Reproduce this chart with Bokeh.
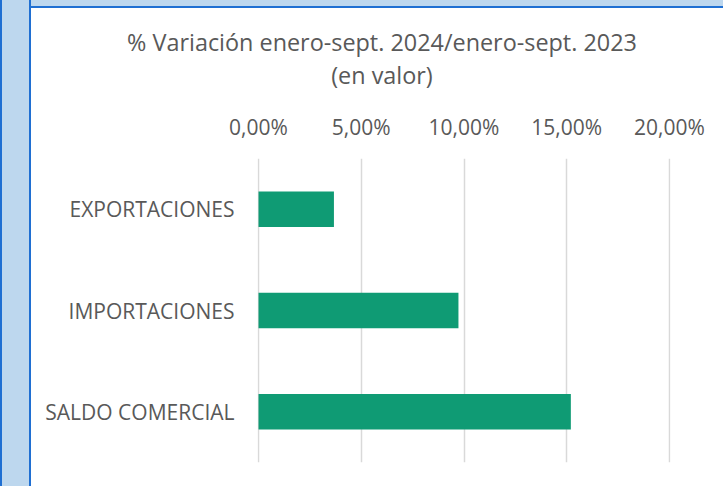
from bokeh.plotting import figure
from bokeh.models import Range1d, FixedTicker, Div
from bokeh.layouts import row, column
from bokeh.embed import file_html
from bokeh.resources import INLINE

categories = ["EXPORTACIONES", "IMPORTACIONES", "SALDO COMERCIAL"]
values = [0.0367, 0.0973, 0.152]
tick_values = [0.0, 0.05, 0.10, 0.15, 0.20]
tick_labels = ["0,00%", "5,00%", "10,00%", "15,00%", "20,00%"]
title_lines = ["% Variación enero-sept. 2024/enero-sept. 2023", "(en valor)"]

FONT = "Open Sans"
TXT = "#595959"
LIGHT = "#BDD7EE"
BLUE = "#1F6FD2"

p = figure(
    y_range=list(reversed(categories)),
    x_range=Range1d(-0.0005, 0.2005),
    x_axis_location="above",
    frame_width=413, frame_height=304,
    min_border_left=226, min_border_right=53,
    min_border_top=66, min_border_bottom=24,
    output_backend="svg", toolbar_location=None,
    background_fill_color="white", border_fill_color="white",
    margin=(0, 0, 0, 0),
)
p.outline_line_color = None

p.hbar(y=categories, right=values, left=0, height=0.35,
       fill_color="#0F9B74", line_color=None)

xa = p.xaxis[0]
xa.ticker = FixedTicker(ticks=tick_values)
xa.major_label_overrides = {v: l for v, l in zip(tick_values, tick_labels)}
xa.axis_line_color = None
xa.major_tick_line_color = None
xa.minor_tick_line_color = None
xa.major_tick_out = 0
xa.major_tick_in = 0
xa.major_label_standoff = 18
xa.major_label_text_font = FONT
xa.major_label_text_font_size = "21px"
xa.major_label_text_color = TXT

ya = p.yaxis[0]
ya.axis_line_color = None
ya.major_tick_line_color = None
ya.minor_tick_line_color = None
ya.major_tick_out = 0
ya.major_tick_in = 0
ya.major_label_standoff = 23
ya.major_label_text_font = FONT
ya.major_label_text_font_size = "21px"
ya.major_label_text_color = TXT

p.xgrid.grid_line_color = "#D9D9D9"
p.xgrid.grid_line_width = 1.5
p.ygrid.grid_line_color = None

title_html = (
    "<div style=\"box-sizing:border-box;width:692px;height:84px;padding:18px 0 0 10px;"
    "margin:0;text-align:center;font-family:'Open Sans';font-size:23.4px;"
    "line-height:33px;color:%s;background:white;\">%s<br>%s</div>"
    % (TXT, title_lines[0], title_lines[1])
)
title_div = Div(width=692, height=84, text=title_html, margin=(0, 0, 0, 0))

left_strip = Div(width=31, height=486, text="", margin=(0, 0, 0, 0),
                 styles={"background": f"linear-gradient(to right, {BLUE} 0px, {BLUE} 2px, {LIGHT} 2px, {LIGHT} 29px, {BLUE} 29px, {BLUE} 31px)"})
top_strip = Div(width=692, height=8, text="", margin=(0, 0, 0, 0),
                styles={"background": f"linear-gradient(to bottom, {LIGHT} 0px, {LIGHT} 6px, {BLUE} 6px, {BLUE} 8px)"})

layout = row(left_strip, column(top_strip, title_div, p, spacing=0), spacing=0)

open("out.html", "w").write(file_html(layout, INLINE))
